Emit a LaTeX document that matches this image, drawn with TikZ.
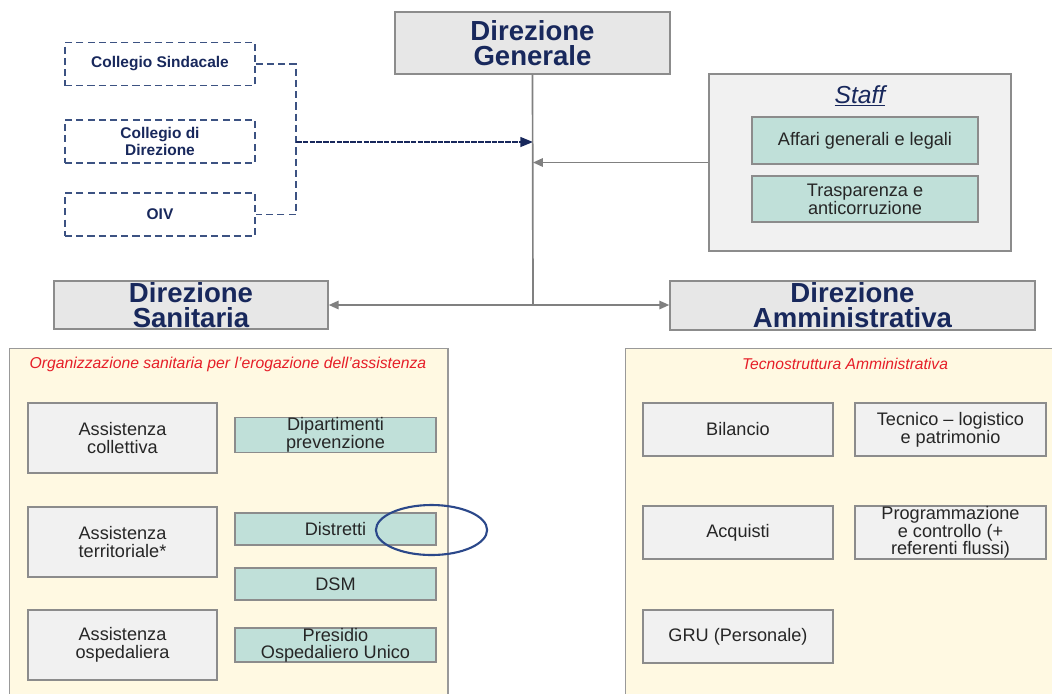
\documentclass[tikz,border=0pt]{standalone}
\usepackage{fontspec}
\setmainfont{Liberation Sans}
\usetikzlibrary{arrows.meta,shapes.geometric}
\definecolor{dirblue}{RGB}{24,40,92}
\definecolor{dashblue}{RGB}{60,82,130}
\definecolor{boxgrey}{RGB}{231,231,231}
\definecolor{lightgrey}{RGB}{241,241,241}
\definecolor{edgegrey}{RGB}{140,140,140}
\definecolor{tealbox}{RGB}{192,224,217}
\definecolor{panelyellow}{RGB}{255,249,226}
\definecolor{titlered}{RGB}{230,30,40}
\definecolor{ringblue}{RGB}{43,72,138}
\tikzset{
  direz/.style={draw=edgegrey,line width=1pt,fill=boxgrey,text=dirblue,align=center,
    font=\fontsize{19.6}{17.8}\selectfont\bfseries,inner sep=0pt},
  organo/.style={draw=dashblue,line width=1pt,dash pattern=on 5pt off 3pt,align=center,
    text=dirblue,font=\fontsize{11}{11.6}\selectfont\bfseries,
    minimum width=4.75cm,minimum height=1.08cm,inner sep=0pt},
  area/.style={draw=edgegrey,line width=1pt,fill=lightgrey,align=center,text=black!85,
    font=\fontsize{12.9}{12.6}\selectfont,inner sep=0pt},
  unita/.style={draw=edgegrey,line width=1pt,fill=tealbox,align=center,text=black!85,
    font=\fontsize{12.9}{12}\selectfont,inner sep=0pt,
    minimum width=5.025cm,minimum height=0.8cm},
  pannello/.style={draw=black!40,line width=1pt,fill=panelyellow},
  legame/.style={draw=black!50,line width=1.2pt,-{Triangle[length=7pt,width=6pt]}}
}
\begin{document}
\begin{tikzpicture}[x=0.025cm,y=-0.025cm]
\useasboundingbox (0,0) rectangle (1052,693);
\clip (0,0) rectangle (1052,693);

\node[direz,minimum width=6.875cm,minimum height=1.55cm] (dg) at (532.5,43) {Direzione\\Generale};

\node[organo] (cs) at (160,64) {Collegio Sindacale};
\node[organo] (cd) at (160,141.5) {Collegio di\\Direzione};
\node[organo] (oiv) at (160,214.5) {OIV};

\node[draw=edgegrey,line width=1pt,fill=lightgrey,minimum width=7.55cm,minimum height=4.425cm] (staff) at (860,162.5) {};
\node[text=dirblue,font=\fontsize{17.5}{17.5}\selectfont\itshape] (stafftit) at (860,96) {\underline{Staff}};
\node[unita,minimum width=5.65cm,minimum height=1.175cm] (affari) at (865,140.5) {Affari generali e legali};
\node[unita,minimum width=5.65cm,minimum height=1.15cm] (traspa) at (865,199) {Trasparenza e\\anticorruzione};

\node[direz,minimum width=6.85cm,minimum height=1.2cm] (ds) at (191,305) {Direzione\\Sanitaria};
\node[direz,minimum width=9.125cm,minimum height=1.225cm] (da) at (852.5,305.5) {Direzione\\Amministrativa};

\coordinate (jn) at (296,142);
\coordinate (bus) at (533,305);
\draw[dashblue,line width=1pt,dash pattern=on 5pt off 3pt] (cs.east) -| (jn) |- (oiv.east);
\draw[dirblue,line width=1.2pt,dash pattern=on 4pt off 0.8pt,-{Triangle[length=9pt,width=7pt]}] (jn) -- (jn -| bus);
\draw[black!50,line width=1.2pt] (dg.south) -- (bus);
\draw[legame] (staff.west) -- (staff.west -| bus);
\draw[legame] (bus) -- (ds.east);
\draw[legame] (bus) -- (bus -| da.west);

\node[pannello,minimum width=10.95cm,minimum height=8.8cm,anchor=north west] (sanit) at (9,348) {};
\node[text=titlered,font=\fontsize{11.2}{11}\selectfont\itshape] (sanittit) at (228,364) {Organizzazione sanitaria per l’erogazione dell’assistenza};
\node[area,minimum width=4.725cm,minimum height=1.75cm] (coll) at (122.5,438) {Assistenza\\collettiva};
\node[area,minimum width=4.725cm,minimum height=1.75cm] (terr) at (122.5,542) {Assistenza\\territoriale*};
\node[area,minimum width=4.725cm,minimum height=1.75cm] (osp) at (122.5,645) {Assistenza\\ospedaliera};
\node[unita] (prev) at (335.5,435) {Dipartimenti\\prevenzione};
\node[unita] (distr) at (335.5,529) {Distretti};
\node[unita] (dsm) at (335.5,584) {DSM};
\node[unita] (presidio) at (335.5,645) {Presidio\\Ospedaliero Unico};
\node[draw=ringblue,line width=1.5pt,ellipse,minimum width=2.78cm,minimum height=1.25cm] (ring) at (431.5,530) {};

\node[pannello,minimum width=11cm,minimum height=8.8cm,anchor=north west] (ammin) at (625,348) {};
\node[text=titlered,font=\fontsize{11.1}{11}\selectfont\itshape] (ammintit) at (845,364) {Tecnostruttura Amministrativa};
\node[area,minimum width=4.75cm,minimum height=1.325cm] (bil) at (738,429.5) {Bilancio};
\node[area,minimum width=4.775cm,minimum height=1.325cm] (tec) at (950.5,429.5) {Tecnico – logistico\\e patrimonio};
\node[area,minimum width=4.75cm,minimum height=1.325cm] (acq) at (738,532.5) {Acquisti};
\node[area,minimum width=4.775cm,minimum height=1.325cm] (prog) at (950.5,532.5) {Programmazione\\e controllo (+\\referenti flussi)};
\node[area,minimum width=4.75cm,minimum height=1.325cm] (gru) at (738,636.5) {GRU (Personale)};
\end{tikzpicture}
\end{document}
